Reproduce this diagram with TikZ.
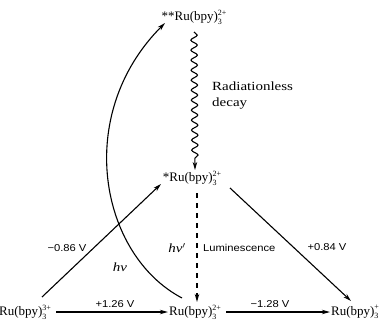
\documentclass[tikz,border=0pt]{standalone}
\usepackage{fontspec}
\setmainfont{Liberation Serif}
\newfontfamily\labfont{Liberation Sans}[FakeStretch=1.12]
\newfontfamily\widefont{Liberation Serif}[FakeStretch=1.2]
\usetikzlibrary{arrows.meta,decorations.pathmorphing}
\newcommand\rub[2]{Ru(bpy)\rlap{\raisebox{5.5pt}{\fontsize{8}{8}\selectfont #2}}\raisebox{-3.5pt}{\fontsize{8}{8}\selectfont #1}\hphantom{\fontsize{8}{8}\selectfont #2}}
\begin{document}
\begin{tikzpicture}[x=1pt,y=-1pt,
  chem/.style={font=\fontsize{13}{15}\selectfont, inner sep=1pt},
  lbl/.style={font=\labfont\fontsize{10}{12}\selectfont, inner sep=0pt},
  txt/.style={font=\widefont\fontsize{12.5}{16}\selectfont, inner sep=0pt},
  arr/.style={line width=1.1pt, -{Stealth[length=8pt,width=4.5pt]}},
]
\useasboundingbox (0,0) rectangle (387,321);
\node[chem] (top)  at (196,17)  {**\rub{3}{2+}};
\node[chem] (star) at (194,178) {*\rub{3}{2+}};
\node[chem] (bl)   at (27,312)  {\rub{3}{3+}};
\node[chem] (bm)   at (197,312) {\rub{3}{2+}};
\node[chem] (br)   at (357,312) {\rub{3}{+}};

\coordinate (l0) at (42,297);  \coordinate (l1) at (161,184);
\coordinate (r0) at (230,188); \coordinate (r1) at (351,301);
\coordinate (w0) at (194,32);  \coordinate (w1) at (195,170);
\coordinate (d0) at (197,193); \coordinate (d1) at (197,302);
\coordinate (c0) at (182,298); \coordinate (c1) at (165,23);

\draw[arr] (l0) -- (l1);
\draw[arr] (r0) -- (r1);
\draw[arr] (bl.east) -- (bm.west);
\draw[arr] (bm.east) -- (br.west);
\draw[arr, decorate, decoration={snake, amplitude=3.2pt, segment length=10pt, post length=7pt}] (w0) -- (w1);
\draw[arr, line width=1.3pt, dash pattern=on 5pt off 5pt] (d0) -- (d1);
\draw[arr] (c0) .. controls (100,255) and (73,115) .. (c1);

\node[txt, anchor=west, align=left] (rd) at (212,96) {Radiationless\\decay};
\node[lbl, anchor=west] (lum) at (203,248) {Luminescence};
\node[txt] (hvp) at (177,248) {\textit{hν}$'$};
\node[txt] (hv) at (120,267) {\textit{hν}};
\node[lbl] (v1) at (67,248) {−0.86 V};
\node[lbl] (v2) at (327,247) {+0.84 V};
\node[lbl] (v3) at (115,304) {+1.26 V};
\node[lbl] (v4) at (270,304) {−1.28 V};
\end{tikzpicture}
\end{document}
